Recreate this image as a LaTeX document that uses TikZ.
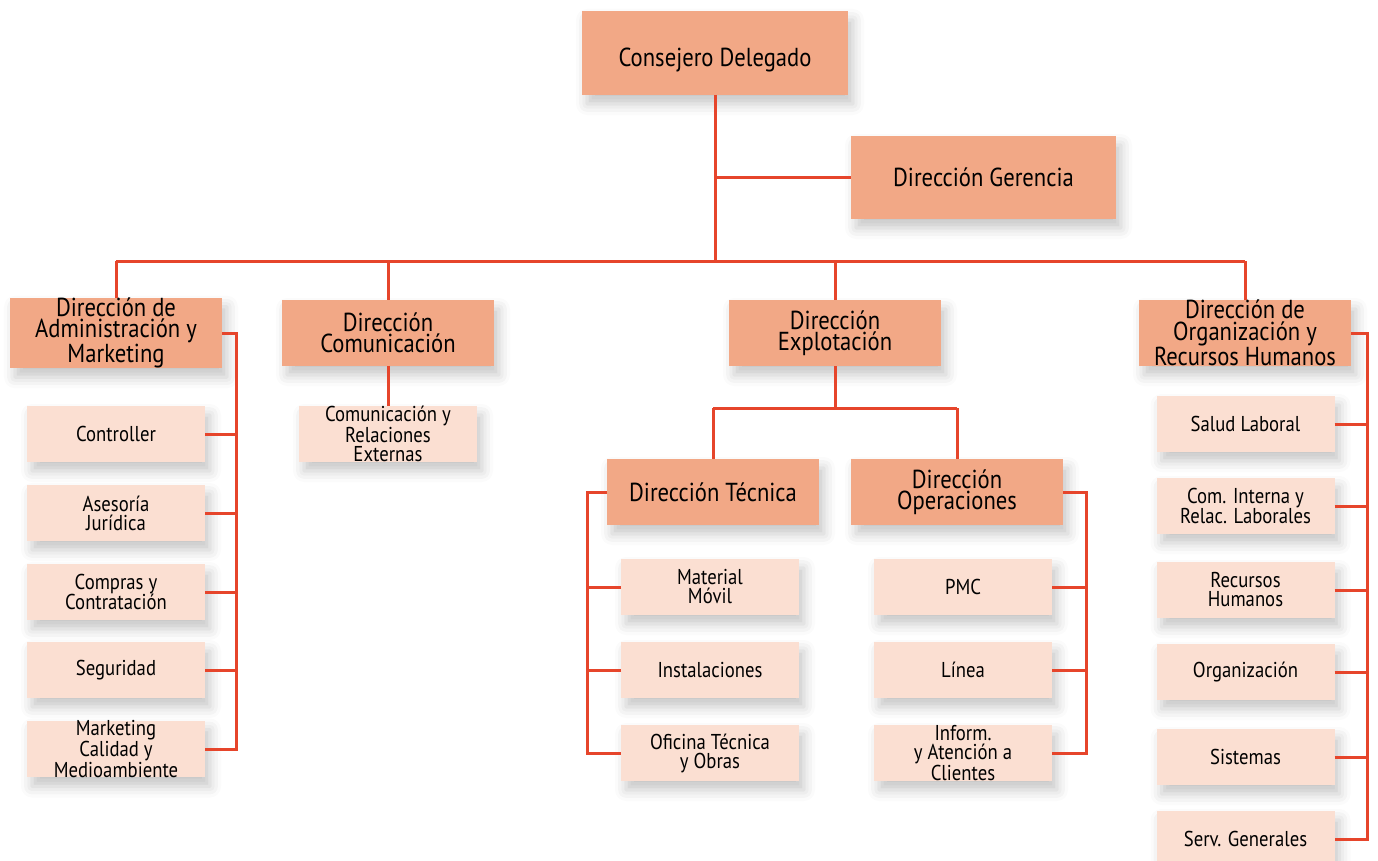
\documentclass[tikz,border=0pt]{standalone}
\usepackage{fontspec}
\setmainfont[FakeStretch=0.87]{PT Sans}
\usetikzlibrary{shadows.blur}
\definecolor{ln}{HTML}{E6452B}
\definecolor{dk}{HTML}{F2A886}
\definecolor{lt}{HTML}{FBDFD2}
\tikzset{
  shade box/.style={blur shadow={shadow xshift=5pt, shadow yshift=-9pt, shadow blur radius=11pt, shadow opacity=22}},
  dbox/.style={shade box, fill=dk, inner sep=0pt, outer sep=0pt, align=center,
    minimum width=212pt, minimum height=66pt,
    font=\fontsize{26}{21.5}\selectfont},
  lbox/.style={shade box, fill=lt, inner sep=0pt, outer sep=0pt, align=center,
    minimum width=178pt, minimum height=56pt,
    font=\fontsize{21.5}{19}\selectfont},
  conn/.style={draw=ln, line width=3pt}
}
\begin{document}
\begin{tikzpicture}[x=1pt,y=-1pt]
\useasboundingbox (0,0) rectangle (1378,861);
\clip (0,0) rectangle (1378,861);
% top management
\node[dbox, minimum width=266pt, minimum height=84pt] (cd) at (715,53) {\raisebox{-14pt}[0pt][0pt]{Consejero Delegado}};
\node[dbox, minimum width=265pt, minimum height=83pt] (dg) at (983.5,177.5) {Dirección Gerencia};
% directorates
\node[dbox] (adm) at (116,333) {Dirección de\\Administración y\\Marketing};
\node[dbox] (com) at (388,333) {Dirección\\Comunicación};
\node[dbox] (exp) at (835,333) {Dirección\\Explotación};
\node[dbox] (org) at (1245,333) {Dirección de\\Organización y\\Recursos Humanos};
% administration units
\node[lbox] (a1) at (116,434) {Controller};
\node[lbox] (a2) at (116,513) {Asesoría\\Jurídica};
\node[lbox] (a3) at (116,592) {Compras y\\Contratación};
\node[lbox] (a4) at (116,670) {Seguridad};
\node[lbox] (a5) at (116,749) {Marketing\\Calidad y\\Medioambiente};
% communication unit
\node[lbox] (c1) at (388,434) {Comunicación y\\Relaciones\\Externas};
% operations management
\node[dbox] (tec) at (713,492) {Dirección Técnica};
\node[dbox] (ope) at (957,492) {Dirección\\Operaciones};
\node[lbox] (t1) at (710,587) {Material\\Móvil};
\node[lbox] (t2) at (710,670) {Instalaciones};
\node[lbox] (t3) at (710,753) {Oficina Técnica\\y Obras};
\node[lbox] (o1) at (963,587) {PMC};
\node[lbox] (o2) at (963,670) {Línea};
\node[lbox] (o3) at (963,753) {Inform.\\y Atención a\\Clientes};
% human resources units
\node[lbox] (r1) at (1245.5,424) {Salud Laboral};
\node[lbox] (r2) at (1245.5,506) {Com. Interna y\\Relac. Laborales};
\node[lbox] (r3) at (1245.5,590) {Recursos\\Humanos};
\node[lbox] (r4) at (1245.5,672) {Organización};
\node[lbox] (r5) at (1245.5,757) {Sistemas};
\node[lbox] (r6) at (1245.5,839) {Serv. Generales};
% bus coordinates
\coordinate (bus) at (0,261);
\coordinate (gx) at (0,178);
\coordinate (ax) at (236,0);
\coordinate (ex) at (0,408);
\coordinate (tx) at (587,0);
\coordinate (ox) at (1086,0);
\coordinate (rx) at (1367,0);
% connectors
\draw[conn] (cd.south) -- (cd.south |- bus);
\draw[conn] (cd.south |- gx) -- (dg.west |- gx);
\draw[conn] (adm.north |- bus) -- (org.north |- bus);
\foreach \n in {adm,com,exp,org} \draw[conn] (\n.north |- bus) -- (\n.north);
\draw[conn] (adm.east) -- (adm.east -| ax) |- (a5.east);
\foreach \n in {a1,a2,a3,a4} \draw[conn] (\n.east) -- (\n.east -| ax);
\draw[conn] (com.south) -- (c1.north);
\draw[conn] (exp.south) -- (exp.south |- ex);
\draw[conn] (tec.north |- ex) -- (tec.north);
\draw[conn] (ope.north |- ex) -- (ope.north);
\draw[conn] (tec.north |- ex) -- (ope.north |- ex);
\draw[conn] (tec.west) -- (tec.west -| tx) |- (t3.west);
\foreach \n in {t1,t2} \draw[conn] (\n.west) -- (\n.west -| tx);
\draw[conn] (ope.east) -- (ope.east -| ox) |- (o3.east);
\foreach \n in {o1,o2} \draw[conn] (\n.east) -- (\n.east -| ox);
\draw[conn] (org.east) -- (org.east -| rx) |- (r6.east);
\foreach \n in {r1,r2,r3,r4,r5} \draw[conn] (\n.east) -- (\n.east -| rx);
\end{tikzpicture}
\end{document}
